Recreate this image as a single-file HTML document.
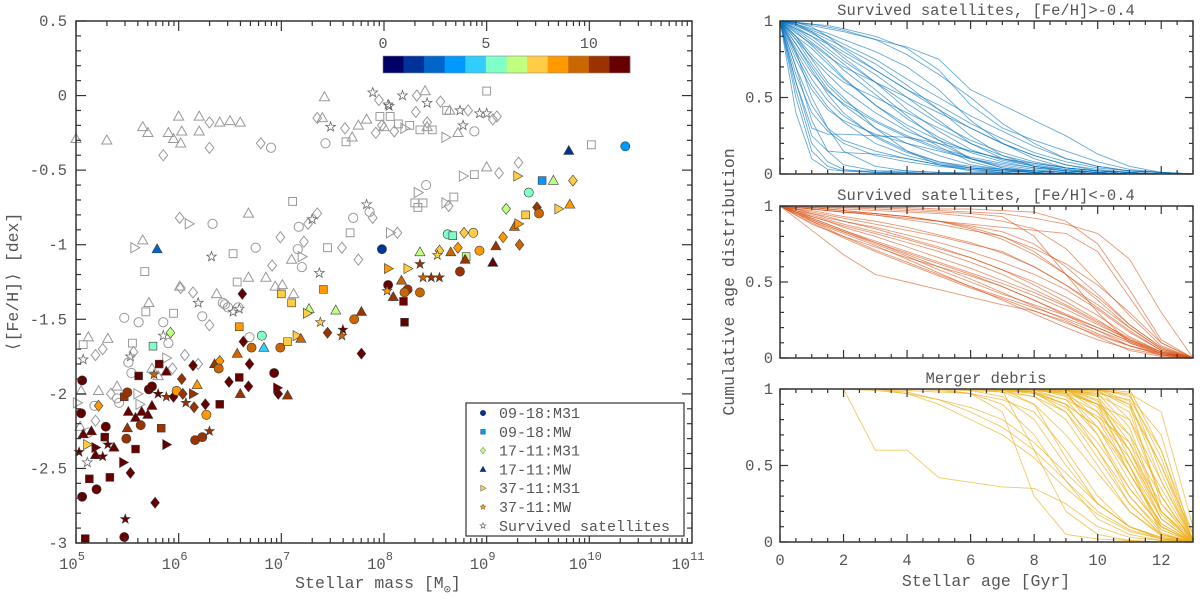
<!DOCTYPE html>
<html><head><meta charset="utf-8"><style>
html,body{margin:0;padding:0;background:#fff}
svg{display:block;font-family:"Liberation Mono","DejaVu Sans Mono",monospace}
</style></head><body>
<svg id="fig" width="1200" height="605" viewBox="0 0 1200 605" xmlns="http://www.w3.org/2000/svg">
<g id="left"></g>
<g id="right"></g>
</svg>
<script>
// ---------- Left panel data: [log10 mass, <[Fe/H]>, marker, colour bin (-1 = survived satellite)] ----------
const grayPoints = [
[5.0,-0.29,'t'],[5.3,-0.3,'t'],[5.65,-0.21,'t'],[5.7,-0.25,'t'],[5.9,-0.25,'t'],[5.95,-0.29,'t'],[6.0,-0.14,'t'],[6.03,-0.24,'t'],[6.02,-0.32,'t'],[5.85,-0.4,'d'],[6.2,-0.24,'t'],[6.2,-0.14,'t'],[6.3,-0.35,'d'],[6.3,-0.18,'d'],[6.4,-0.18,'t'],[6.5,-0.17,'t'],[6.6,-0.18,'t'],[6.8,-0.32,'d'],[6.9,-0.35,'c'],[7.42,-0.01,'t'],[7.35,-0.15,'d'],[7.4,-0.15,'t'],[7.48,-0.21,'p'],[7.43,-0.32,'c'],[7.62,-0.22,'d'],[7.63,-0.31,'s'],[7.69,-0.28,'t'],[7.75,-0.2,'t'],[7.83,-0.16,'t'],[7.92,-0.25,'d'],[7.96,-0.14,'s'],[7.98,-0.2,'d'],[7.89,0.02,'p'],[7.95,-0.03,'d'],[8.04,-0.06,'p'],[8.18,0.0,'p'],[8.32,0.0,'d'],[8.4,0.03,'t'],[8.42,-0.05,'p'],[8.55,-0.04,'d'],[9.0,0.03,'s'],[8.31,-0.11,'d'],[8.05,-0.07,'p'],[8.61,-0.1,'s'],[8.64,-0.1,'t'],[8.74,-0.1,'p'],[8.82,-0.1,'d'],[8.93,-0.12,'p'],[9.0,-0.12,'p'],[9.06,-0.16,'d'],[9.1,-0.14,'d'],[8.06,-0.14,'s'],[8.14,-0.19,'s'],[8.0,-0.21,'t'],[8.2,-0.22,'r'],[8.35,-0.23,'s'],[8.47,-0.23,'s'],[8.42,-0.18,'d'],[8.42,-0.21,'t'],[8.6,-0.28,'r'],[8.72,-0.25,'t'],[8.77,-0.2,'p'],[8.88,-0.24,'c'],[8.1,-0.24,'d'],[8.25,-0.2,'s'],
[10.02,-0.33,'s'],
[8.77,-0.54,'r'],[8.88,-0.53,'s'],[9.0,-0.48,'t'],[9.12,-0.52,'d'],[9.31,-0.45,'d'],[8.41,-0.6,'c'],[8.33,-0.65,'r'],[8.3,-0.72,'s'],[8.38,-0.72,'s'],[8.33,-0.75,'s'],[8.6,-0.72,'r'],[8.63,-0.74,'d'],[8.68,-0.68,'s'],[8.06,-0.92,'r'],[8.13,-0.92,'d'],
[7.11,-0.71,'s'],[6.01,-0.82,'d'],[6.1,-0.86,'r'],[6.33,-0.86,'c'],[6.68,-0.79,'t'],[7.35,-0.79,'d'],[7.26,-0.86,'d'],[7.3,-0.83,'p'],[7.17,-0.88,'c'],[7.7,-0.82,'c'],[7.67,-0.92,'s'],[7.83,-0.73,'p'],[7.86,-0.78,'c'],[7.89,-0.82,'d'],[6.32,-1.08,'p'],[6.53,-1.06,'s'],[6.75,-1.02,'c'],[6.99,-0.95,'d'],[7.22,-0.98,'d'],[7.16,-1.03,'c'],[7.2,-1.08,'r'],[7.1,-1.1,'t'],[7.2,-1.15,'c'],[6.91,-1.14,'d'],[7.37,-1.19,'p'],[7.45,-1.02,'s'],[7.59,-1.02,'d'],[7.75,-1.1,'d'],[5.57,-1.02,'r'],[5.65,-0.97,'t'],[5.67,-1.18,'s'],[6.57,-1.25,'s'],[6.68,-1.22,'t'],[6.85,-1.22,'t'],[6.94,-1.28,'t'],[7.01,-1.27,'t'],[7.12,-1.33,'t'],[6.02,-1.29,'d'],[6.14,-1.32,'d'],[6.37,-1.33,'t'],[6.45,-1.4,'c'],[6.48,-1.42,'c'],[6.53,-1.45,'p'],[6.59,-1.43,'p'],[6.19,-1.39,'p'],[6.23,-1.48,'c'],[6.3,-1.54,'d'],[5.95,-1.46,'s'],[6.01,-1.28,'t'],[6.69,-1.62,'c'],[5.85,-1.52,'c'],
[5.47,-1.49,'c'],[5.61,-1.52,'c'],[5.68,-1.45,'s'],[5.85,-1.61,'p'],[5.9,-1.66,'c'],[5.55,-1.66,'s'],[5.71,-1.39,'t'],[6.43,-1.39,'c'],[6.58,-1.42,'c'],[5.07,-1.67,'s'],[5.12,-1.62,'t'],[5.31,-1.63,'t'],[5.26,-1.7,'d'],[5.19,-1.74,'d'],[5.07,-1.77,'p'],[5.53,-1.75,'p'],[5.56,-1.72,'d'],[5.51,-1.79,'c'],[5.54,-1.86,'c'],[5.88,-1.76,'r'],[5.74,-1.83,'t'],[5.8,-1.88,'t'],[5.94,-1.83,'d'],[6.06,-1.74,'d'],[6.19,-1.8,'d'],[5.05,-1.98,'t'],[5.22,-1.98,'t'],[5.4,-1.95,'t'],[5.4,-2.03,'c'],[5.42,-2.06,'c'],[5.34,-2.0,'d'],[5.18,-2.08,'c'],[5.01,-2.06,'r'],[5.19,-2.18,'d'],[5.12,-2.26,'c'],[5.04,-2.22,'t'],[5.11,-2.46,'p'],[5.6,-2.0,'r'],[5.62,-2.07,'r']
];
const coloredPoints = [
[9.8,-0.37,'t',1],[10.35,-0.34,'c',3],
[9.3,-0.54,'r',7],[9.54,-0.57,'s',3],[9.65,-0.57,'t',6],[9.84,-0.57,'d',7],[9.41,-0.65,'c',5],[9.19,-0.76,'d',6],[9.49,-0.75,'d',10],[9.51,-0.79,'c',9],[9.38,-0.8,'s',7],[9.7,-0.76,'r',7],[9.81,-0.73,'t',8],[7.98,-1.03,'c',1],[8.62,-0.93,'c',5],[8.67,-0.94,'s',5],[8.78,-0.92,'d',7],[8.87,-0.92,'c',7],[8.93,-1.04,'c',8],[9.09,-1.01,'t',10],[9.16,-0.95,'d',8],[9.27,-0.88,'t',9],[9.31,-0.86,'r',8],[9.32,-1.0,'d',9],[8.35,-1.05,'t',6],[8.54,-1.04,'d',7],[8.65,-1.05,'t',9],[8.72,-1.02,'d',8],[8.52,-1.07,'p',7],[8.8,-1.08,'s',6],[8.79,-1.1,'t',10],[9.06,-1.12,'t',11],[8.74,-1.18,'c',10],[8.04,-1.16,'r',8],[8.23,-1.16,'r',7],[8.35,-1.13,'p',10],[8.38,-1.22,'p',9],[8.46,-1.22,'p',10],[8.54,-1.22,'p',10],[8.04,-1.27,'c',11],[8.17,-1.24,'t',9],[8.23,-1.3,'c',10],[8.2,-1.32,'c',9],[8.35,-1.32,'c',9],[8.03,-1.31,'p',8],[8.09,-1.35,'t',10],[8.19,-1.38,'s',11],[8.2,-1.52,'s',11],
[5.79,-1.03,'t',2],[7.0,-1.33,'s',7],[7.1,-1.39,'s',7],[6.62,-1.33,'d',11],[7.41,-1.3,'s',8],[7.27,-1.43,'t',6],[7.25,-1.46,'r',7],[7.53,-1.44,'t',6],[7.38,-1.52,'p',7],[7.45,-1.59,'d',10],[7.6,-1.57,'p',11],[7.59,-1.61,'p',9],[7.71,-1.5,'c',9],[7.78,-1.45,'t',10],[6.81,-1.61,'c',5],[6.59,-1.55,'s',8],[6.63,-1.65,'d',11],[6.83,-1.69,'t',4],[6.71,-1.69,'c',9],[6.99,-1.69,'c',9],[7.06,-1.65,'s',7],[7.15,-1.61,'r',7],[7.19,-1.63,'t',9],[7.78,-1.73,'d',11],[5.92,-1.59,'d',6],[5.75,-1.68,'s',5],
[5.61,-1.88,'s',11],[5.76,-1.87,'p',9],[5.81,-1.8,'s',11],[5.88,-1.85,'t',11],[6.14,-1.81,'d',11],[6.35,-1.8,'t',10],[6.4,-1.78,'d',8],[6.39,-1.83,'c',9],[6.57,-1.73,'t',9],[6.69,-1.8,'d',11],[6.93,-1.86,'c',11],[5.47,-2.02,'s',10],[5.5,-1.99,'c',10],[5.22,-2.08,'d',8],[5.06,-1.91,'c',11],[5.05,-2.13,'c',11],[5.51,-2.12,'t',11],[5.5,-2.23,'t',10],[5.49,-2.3,'c',10],[5.58,-2.16,'t',11],[5.63,-2.21,'c',10],[5.64,-2.12,'t',11],[5.7,-2.14,'t',11],[5.74,-2.08,'t',11],[5.71,-1.97,'c',11],[5.74,-1.95,'c',11],[5.8,-2.0,'p',11],[5.88,-2.02,'p',10],[6.03,-1.9,'d',10],[5.95,-2.02,'d',11],[5.98,-1.98,'c',8],[6.04,-2.0,'d',10],[6.07,-2.06,'p',10],[6.14,-2.0,'r',10],[6.26,-2.07,'d',11],[6.15,-2.09,'d',10],[6.27,-2.14,'c',8],[6.18,-1.94,'t',8],[6.4,-2.07,'s',11],[6.49,-1.92,'d',11],[6.68,-1.95,'d',11],[6.6,-2.0,'t',10],[6.59,-1.89,'s',11],[6.16,-2.31,'c',10],[6.23,-2.29,'c',10],[6.3,-2.25,'p',10],[6.97,-2.0,'d',11],[6.96,-1.96,'r',11],[7.06,-2.01,'t',10],[5.2,-2.64,'c',11],[5.06,-2.69,'c',11],[5.13,-2.57,'s',11],[5.33,-2.56,'s',11],[5.07,-2.27,'t',11],[5.15,-2.25,'t',11],[5.03,-2.39,'p',11],[5.19,-2.36,'r',11],[5.19,-2.41,'t',11],[5.26,-2.42,'p',11],[5.29,-2.22,'c',11],[5.28,-2.29,'s',11],[5.31,-2.34,'p',11],[5.37,-2.36,'t',11],[5.58,-2.37,'s',11],[5.46,-2.46,'r',11],[5.53,-2.53,'d',11],[5.83,-2.23,'s',10],[5.88,-2.34,'r',11],[5.77,-2.73,'d',11],[5.48,-2.84,'p',11],[5.47,-2.96,'c',11],[5.09,-2.97,'s',11],[5.11,-2.34,'r',7]
];
const colorbarColors = ['#000066','#003399','#0066cc','#0099ff','#33ccff','#80ffc8','#c0ff80','#ffcc44','#ff9900','#cc6600','#993300','#660000'];
const colorbarTicks = [0,5,10];
const xDecades = [5,6,7,8,9,10,11];
const yTicksLeft = [0.5,0,-0.5,-1,-1.5,-2,-2.5,-3];
const yTickLabelsLeft = ['0.5','0','-0.5','-1','-1.5','-2','-2.5','-3'];
const legendLabels = ['09-18:M31','09-18:MW','17-11:M31','17-11:MW','37-11:M31','37-11:MW','Survived satellites'];
const legendMarkers = ['c','s','d','t','r','p','p'];
const legendBins = [1,3,6,1,7,8,-1];

// ---------- Right panels data: cumulative age distributions on a shared age grid ----------
const ageGrid = [0,0.5,1,1.5,2,3,4,5,6,7,8,9,10,11,12,13];
const blueCurves = [
[1,.55,.2,.08,.03,.01,0,0,0,0,0,0,0,0,0,0],
[1,.7,.35,.15,.06,.02,.01,0,0,0,0,0,0,0,0,0],
[1,.8,.5,.3,.15,.05,.02,.01,0,0,0,0,0,0,0,0],
[1,.9,.75,.6,.5,.3,.15,.06,.02,.01,0,0,0,0,0,0],
[1,.95,.88,.8,.72,.55,.38,.22,.1,.04,.02,.01,0,0,0,0],
[1,.98,.95,.92,.88,.8,.7,.55,.35,.2,.1,.04,.02,.01,0,0],
[1,.99,.97,.95,.93,.88,.83,.75,.55,.45,.35,.25,.13,.05,.01,0],
[1,.99,.98,.97,.95,.9,.82,.68,.45,.3,.22,.15,.08,.03,.01,0],
[1,.95,.9,.85,.78,.65,.5,.35,.2,.1,.05,.02,.01,0,0,0],
[1,.9,.82,.72,.62,.45,.3,.18,.08,.03,.01,0,0,0,0,0],
[1,.85,.7,.55,.45,.3,.2,.12,.06,.03,.01,0,0,0,0,0],
[1,.6,.3,.26,.26,.25,.24,.2,.1,.04,.01,0,0,0,0,0],
[1,.75,.55,.42,.35,.26,.2,.15,.1,.05,.02,.01,0,0,0,0],
[1,.92,.85,.77,.7,.6,.5,.4,.3,.2,.12,.06,.02,.01,0,0],
[1,.97,.93,.88,.83,.72,.58,.42,.25,.12,.05,.02,.01,0,0,0],
[1,.88,.76,.65,.55,.4,.28,.2,.15,.1,.06,.03,.01,0,0,0],
[1,.98,.94,.9,.85,.75,.62,.5,.38,.28,.18,.1,.05,.02,.01,0],
[1,.8,.62,.48,.38,.25,.15,.08,.04,.02,.01,0,0,0,0,0],
[1,.65,.4,.28,.2,.12,.08,.05,.03,.02,.01,0,0,0,0,0],
[1,.97,.92,.86,.8,.68,.55,.45,.33,.23,.14,.08,.04,.02,.01,0],
[1,.9,.78,.68,.6,.5,.4,.3,.2,.12,.07,.04,.02,.01,0,0],
[1,.5,.15,.05,.02,.01,.01,0,0,0,0,0,0,0,0,0],
[1,.93,.84,.74,.63,.45,.32,.22,.15,.1,.07,.04,.02,.01,0,0],
[1,.99,.96,.9,.82,.68,.55,.42,.3,.2,.12,.06,.03,.01,0,0],
[1,.99,.98,.96,.94,.88,.78,.65,.5,.33,.2,.1,.05,.02,.01,0],
[1,.85,.68,.52,.4,.24,.14,.08,.05,.03,.02,.01,0,0,0,0],
[1,.7,.45,.3,.22,.15,.1,.06,.04,.02,.01,0,0,0,0,0],
[1,.96,.9,.82,.74,.6,.46,.33,.22,.14,.08,.04,.02,.01,0,0],
[1,.88,.72,.58,.48,.35,.25,.17,.11,.07,.04,.02,.01,0,0,0],
[1,.6,.25,.15,.14,.13,.1,.06,.03,.01,0,0,0,0,0,0],
[1,.78,.58,.44,.34,.2,.12,.07,.04,.03,.02,.01,0,0,0,0],
[1,.82,.66,.54,.46,.34,.24,.16,.1,.06,.03,.01,0,0,0,0],
[1,.4,.1,.03,.02,.02,.02,.01,.01,.01,0,0,0,0,0,0],
[1,.94,.86,.78,.68,.52,.36,.24,.14,.08,.04,.02,.01,0,0,0],
[1,.98,.93,.85,.76,.6,.42,.28,.16,.09,.05,.03,.01,0,0,0]
];
const orangeCurves = [
[1,.96,.92,.88,.84,.76,.68,.6,.52,.43,.34,.25,.16,.08,.03,0],
[1,.95,.9,.86,.82,.74,.65,.56,.47,.38,.29,.2,.12,.06,.02,0],
[1,.94,.88,.84,.8,.73,.66,.6,.54,.47,.38,.28,.18,.08,.02,0],
[1,.92,.84,.76,.68,.55,.5,.45,.4,.35,.31,.24,.14,.05,.01,0],
[1,1,1,.99,.99,.98,.97,.96,.95,.93,.8,.55,.3,.1,.02,0],
[1,1,.99,.98,.97,.95,.93,.9,.87,.83,.75,.6,.42,.22,.07,0],
[1,.99,.98,.97,.96,.94,.92,.9,.88,.86,.84,.82,.7,.4,.1,0],
[1,1,1,1,1,.99,.99,.98,.98,.97,.96,.9,.75,.45,.12,0],
[1,.98,.96,.94,.92,.88,.84,.8,.75,.7,.6,.48,.33,.18,.05,0],
[1,.97,.94,.91,.88,.83,.78,.72,.66,.58,.5,.4,.28,.14,.04,0],
[1,.96,.93,.9,.86,.8,.73,.66,.59,.51,.43,.34,.23,.12,.04,0],
[1,.95,.9,.85,.8,.71,.63,.55,.47,.4,.33,.26,.18,.1,.03,0],
[1,.94,.89,.84,.79,.7,.62,.54,.46,.39,.31,.23,.15,.08,.02,0],
[1,.99,.98,.97,.96,.94,.91,.88,.84,.8,.72,.62,.48,.3,.1,0],
[1,.99,.99,.98,.97,.95,.93,.9,.86,.8,.7,.55,.38,.2,.06,0],
[1,.98,.97,.95,.93,.9,.86,.81,.76,.69,.6,.48,.35,.2,.06,0],
[1,.97,.95,.92,.9,.85,.79,.73,.66,.58,.48,.37,.25,.12,.03,0],
[1,.96,.92,.88,.84,.77,.7,.63,.56,.49,.41,.32,.22,.12,.04,0],
[1,.99,.98,.97,.96,.95,.93,.9,.85,.78,.68,.55,.4,.22,.07,0],
[1,1,.99,.99,.98,.97,.96,.95,.93,.9,.85,.72,.5,.28,.08,0],
[1,.97,.93,.9,.87,.82,.76,.7,.63,.55,.45,.35,.24,.13,.04,0],
[1,.95,.91,.87,.83,.75,.67,.58,.5,.42,.35,.28,.2,.11,.03,0],
[1,1,1,1,.99,.99,.98,.97,.96,.95,.92,.88,.82,.65,.3,0],
[1,.98,.95,.93,.9,.86,.81,.76,.7,.63,.55,.45,.32,.17,.05,0],
[1,.96,.91,.87,.83,.76,.69,.62,.55,.47,.38,.29,.2,.11,.03,0]
];
const yellowCurves = [
[null,null,null,null,1,.6,.6,.42,.39,.36,.35,.25,.1,.03,.01,0],
[1,1,1,1,1,1,.99,.98,.97,.9,.7,.4,.15,.05,.01,0],
[1,1,1,1,1,1,1,1,1,.99,.98,.9,.6,.25,.05,0],
[1,1,1,1,1,1,1,1,1,1,1,.99,.95,.7,.2,0],
[1,1,1,1,1,1,1,1,1,1,1,1,.98,.9,.5,0],
[1,1,1,1,1,1,1,1,.99,.98,.95,.85,.6,.3,.08,0],
[1,1,1,1,1,1,1,1,1,1,.99,.97,.9,.6,.15,0],
[1,1,1,1,1,1,.97,.9,.8,.7,.55,.35,.18,.07,.02,0],
[1,1,1,1,1,1,.98,.93,.85,.75,.6,.4,.2,.08,.02,0],
[1,1,1,1,1,1,1,.99,.97,.93,.85,.6,.3,.1,.02,0],
[1,1,1,1,1,1,1,1,1,.99,.97,.9,.75,.45,.12,0],
[1,1,1,1,1,1,1,1,1,1,1,1,1,.95,.7,0],
[1,1,1,1,1,1,1,1,1,1,1,1,.99,.97,.85,.1],
[1,1,1,1,1,1,1,1,1,1,.99,.98,.9,.8,.4,0],
[1,1,1,1,1,1,1,1,1,.98,.9,.7,.45,.2,.05,0],
[1,1,1,1,1,1,1,1,1,1,1,.95,.8,.55,.2,0],
[1,1,1,1,1,1,1,1,1,1,1,1,.96,.85,.3,0],
[1,1,1,1,1,1,1,1,1,1,1,1,1,1,.6,0],
[1,1,1,1,1,1,1,1,.97,.85,.3,.05,.02,.01,0,0],
[1,1,1,1,1,1,1,1,1,.99,.6,.2,.05,.01,0,0],
[1,1,1,1,1,1,1,1,1,1,.98,.9,.75,.5,.15,0],
[1,1,1,1,1,1,1,1,1,1,1,1,.9,.7,.35,0],
[1,1,1,1,1,1,1,1,1,1,1,.99,.97,.93,.6,.05],
[1,1,1,1,1,.99,.97,.93,.88,.8,.65,.45,.25,.1,.03,0],
[1,1,1,1,1,1,1,1,1,1,1,1,1,.98,.45,0],
[1,1,1,1,1,1,1,1,1,1,.98,.93,.82,.65,.3,0],
[1,1,1,1,1,1,1,1,1,1,.9,.55,.25,.1,.03,0],
[1,1,1,1,1,1,1,1,1,1,1,.98,.7,.35,.1,0],
[1,1,1,1,1,1,1,1,1,1,1,1,.92,.6,.2,.02],
[1,1,1,1,1,1,1,1,.99,.95,.8,.5,.25,.1,.02,0],
[1,1,1,1,1,1,1,1,1,1,1,1,1,.9,.25,0],
[1,1,1,1,1,1,1,1,1,1,1,.96,.85,.6,.25,.03],
[1,1,1,1,1,1,1,1,1,1,1,1,.85,.45,.12,0],
[1,1,1,1,1,1,1,1,1,1,1,.97,.75,.4,.08,0],
[1,1,1,1,1,1,1,1,1,1,1,1,.95,.55,.15,0],
[1,1,1,1,1,1,1,1,1,1,.97,.88,.65,.35,.1,0],
[1,1,1,1,1,1,1,1,1,1,1,1,1,.8,.3,0],
[1,1,1,1,1,1,1,1,1,1,1,.99,.9,.5,.05,0],
[1,1,1,1,1,1,1,1,1,.99,.95,.8,.5,.2,.04,0],
[1,1,1,1,1,1,1,1,1,1,1,1,.97,.75,.2,0],
[1,1,1,1,1,1,1,1,1,1,1,1,1,.92,.4,.02],
[1,1,1,1,1,1,1,1,1,1,.99,.93,.7,.3,.06,0],
[1,1,1,1,1,1,1,1,1,1,1,1,.99,.88,.5,.05],
[1,1,1,1,1,1,1,1,1,1,1,.98,.8,.45,.1,0],
[1,1,1,1,1,1,1,1,1,1,1,1,.93,.65,.18,0],
[1,1,1,1,1,1,1,1,1,1,1,1,1,.96,.55,0],
[1,1,1,1,1,1,1,1,1,1,.98,.85,.55,.25,.05,0],
[1,1,1,1,1,1,1,1,1,1,1,1,.88,.5,.1,0]
];
const xTicksRight = [0,2,4,6,8,10,12];
const panelTitles = ['Survived satellites, [Fe/H]>-0.4','Survived satellites, [Fe/H]<-0.4','Merger debris'];

// ---------- helpers ----------
const NS='http://www.w3.org/2000/svg';
function el(tag, attrs, parent){const e=document.createElementNS(NS,tag);for(const k in attrs)e.setAttribute(k,attrs[k]);parent.appendChild(e);return e;}
const L = document.getElementById('left');
const R = document.getElementById('right');
const AX = {x0:76,x1:692,y0:21,y1:543};
const xL = lm => AX.x0 + (lm-5)*(AX.x1-AX.x0)/6;
const yL = fe => AX.y0 + (0.5-fe)*(AX.y1-AX.y0)/3.5;
const TXT = '#555';

function markerPath(shape,x,y,s){
  switch(shape){
    case 'c': return null;
    case 's': return `M${x-s*0.85},${y-s*0.85}h${s*1.7}v${s*1.7}h${-s*1.7}z`;
    case 'd': return `M${x},${y-s*1.2}L${x+s*0.95},${y}L${x},${y+s*1.2}L${x-s*0.95},${y}z`;
    case 't': return `M${x},${y-s*1.15}L${x+s*1.1},${y+s*0.8}L${x-s*1.1},${y+s*0.8}z`;
    case 'r': return `M${x+s*1.15},${y}L${x-s*0.8},${y+s*1.1}L${x-s*0.8},${y-s*1.1}z`;
    case 'p': { let d=''; for(let i=0;i<10;i++){const r=i%2?s*0.45:s*1.1;const a=-Math.PI/2+i*Math.PI/5;d+=(i?'L':'M')+(x+r*Math.cos(a)).toFixed(2)+','+(y+r*Math.sin(a)).toFixed(2);} return d+'z'; }
  }
}
function drawMarker(parent,shape,x,y,s,fill,stroke,sw){
  let m;
  if(shape==='c') m=el('circle',{cx:x,cy:y,r:s,fill:fill,stroke:stroke,'stroke-width':sw},parent);
  else m=el('path',{d:markerPath(shape,x,y,s),fill:fill,stroke:stroke,'stroke-width':sw},parent);
  return m;
}

// ---------- Left panel ----------
const gGray = el('g',{},L);


grayPoints.forEach(p=>{
  const isStar = p[2]==='p';
  const m = drawMarker(gGray,p[2],xL(p[0]),yL(p[1]),4.6,'none',isStar?'#666':'#999',isStar?0.8:1);
  
  
});
const gCol = el('g',{},L);


coloredPoints.forEach(p=>{
  const m = drawMarker(gCol,p[2],xL(p[0]),yL(p[1]),4.6,colorbarColors[p[3]],'#3a3a3a',0.6);
  
  
});

const frame = el('rect',{x:AX.x0,y:AX.y0,width:AX.x1-AX.x0,height:AX.y1-AX.y0,fill:'none',stroke:'#333','stroke-width':1.5},L);


const gTicks = el('g',{stroke:'#333','stroke-width':1.2},L);


for(let d=5; d<11; d++){
  for(let k=1;k<10;k++){
    const x=xL(d+Math.log10(k)); const len=k===1?10:5;
    el('line',{x1:x,y1:AX.y1,x2:x,y2:AX.y1-len},gTicks);
    el('line',{x1:x,y1:AX.y0,x2:x,y2:AX.y0+len},gTicks);
  }
}
for(let i=0;i<=35;i++){
  const v=0.5-i*0.1; const y=yL(v); const len=(i%5===0)?10:5;
  el('line',{x1:AX.x0,y1:y,x2:AX.x0+len,y2:y},gTicks);
  el('line',{x1:AX.x1,y1:y,x2:AX.x1-len,y2:y},gTicks);
}
xDecades.forEach(d=>{
  const t=el('text',{x:xL(d)-4,y:569,'text-anchor':'middle','font-size':15.5,fill:TXT},L);
  t.textContent='10';
  const sp=el('tspan',{dy:-9,'font-size':12},t); sp.textContent=String(d);
  
  
});
yTicksLeft.forEach((v,i)=>{
  const t=el('text',{x:67,y:yL(v)+5,'text-anchor':'end','font-size':15.5,fill:TXT},L);
  t.textContent=yTickLabelsLeft[i];
  
  
});
const xt=el('text',{x:378,y:588,'text-anchor':'middle','font-size':16.5,fill:TXT},L);
xt.innerHTML='Stellar mass [M<tspan dy="5" font-size="12">⊙</tspan><tspan dy="-5">]</tspan>';


const yt=el('text',{x:0,y:0,'text-anchor':'middle','font-size':16.5,fill:TXT,transform:'translate(18,282) rotate(-90)'},L);
yt.textContent='⟨[Fe/H]⟩ [dex]';



const CB={x0:383,x1:630,y0:56,y1:73,vmax:12};
const cbx = v => CB.x0 + v*(CB.x1-CB.x0)/CB.vmax;
const gCb = el('g',{},L);


colorbarColors.forEach((c,i)=>{
  const r=el('rect',{x:cbx(i),y:CB.y0,width:cbx(i+1)-cbx(i)+0.3,height:CB.y1-CB.y0,fill:c},gCb);
  
  
});
el('rect',{x:CB.x0,y:CB.y0,width:CB.x1-CB.x0,height:CB.y1-CB.y0,fill:'none',stroke:'#888','stroke-width':0.6},gCb);
colorbarTicks.forEach(v=>{
  const t=el('text',{x:cbx(v),y:48,'text-anchor':'middle','font-size':15,fill:TXT},gCb);
  t.textContent=String(v);
  
  
});

const gLeg = el('g',{},L);


el('rect',{x:466,y:403,width:218,height:133,fill:'#fff',stroke:'#333','stroke-width':1.2},gLeg);
legendLabels.forEach((lab,i)=>{
  const y=413+i*18.8;
  const g=el('g',{},gLeg);
  
  
  const b=legendBins[i];
  if(b<0) drawMarker(g,legendMarkers[i],483,y,2.8,'none','#777',0.7);
  else drawMarker(g,legendMarkers[i],483,y,2.8,colorbarColors[b],'#333',0.4);
  const t=el('text',{x:499,y:y+5,'font-size':15,fill:TXT},g);
  t.textContent=lab;
});

// ---------- Right panels ----------
const RX={x0:780,x1:1193,amax:13};
const xR = a => RX.x0 + a*(RX.x1-RX.x0)/RX.amax;
const panels=[{y0:21,y1:174},{y0:206,y1:358},{y0:389,y1:542}];
const curveSets=[blueCurves,orangeCurves,yellowCurves];
const curveColors=['#0072BD','#D95319','#EDB120'];
const curveOpacity=[0.6,0.6,0.7];
const panelNames=['survived-metal-rich-panel','survived-metal-poor-panel','merger-debris-panel'];
panels.forEach((P,pi)=>{
  const yR = v => P.y1 - v*(P.y1-P.y0);
  const g=el('g',{},R);
  
  
  const gl=el('g',{fill:'none',stroke:curveColors[pi],'stroke-width':0.9,'stroke-opacity':curveOpacity[pi]},g);
  curveSets[pi].forEach(c=>{
    let d='';
    c.forEach((v,i)=>{ if(v===null) return; d+=(d?'L':'M')+xR(ageGrid[i]).toFixed(1)+','+yR(v).toFixed(1); });
    const p=el('path',{d:d},gl);
    
    
  });
  el('rect',{x:RX.x0,y:P.y0,width:RX.x1-RX.x0,height:P.y1-P.y0,fill:'none',stroke:'#333','stroke-width':1.5},g);
  const gt=el('g',{stroke:'#333','stroke-width':1.2},g);
  for(let a=0;a<=13;a+=0.5){
    const x=xR(a); const len=(a%2===0)?8:4;
    el('line',{x1:x,y1:P.y1,x2:x,y2:P.y1-len},gt);
    el('line',{x1:x,y1:P.y0,x2:x,y2:P.y0+len},gt);
  }
  for(let i=0;i<=10;i++){
    const y=yR(i/10); const len=(i%5===0)?8:4;
    el('line',{x1:RX.x0,y1:y,x2:RX.x0+len,y2:y},gt);
    el('line',{x1:RX.x1,y1:y,x2:RX.x1-len,y2:y},gt);
  }
  [[1,'1'],[0.5,'0.5'],[0,'0']].forEach(([v,s])=>{
    const t=el('text',{x:773,y:yR(v)+5,'text-anchor':'end','font-size':15.5,fill:TXT},g);
    t.textContent=s;
    
    
  });
  const tt=el('text',{x:986,y:P.y0-6,'text-anchor':'middle','font-size':15.5,fill:TXT},g);
  tt.textContent=panelTitles[pi];
  
  
});
xTicksRight.forEach(a=>{
  const t=el('text',{x:xR(a),y:565,'text-anchor':'middle','font-size':15.5,fill:TXT},R);
  t.textContent=String(a);
  
  
});
const rx=el('text',{x:986,y:586,'text-anchor':'middle','font-size':16.5,fill:TXT},R);
rx.textContent='Stellar age [Gyr]';


const ry=el('text',{x:0,y:0,'text-anchor':'middle','font-size':16.5,fill:TXT,transform:'translate(734,282) rotate(-90)'},R);
ry.textContent='Cumulative age distribution';


</script>
</body></html>
